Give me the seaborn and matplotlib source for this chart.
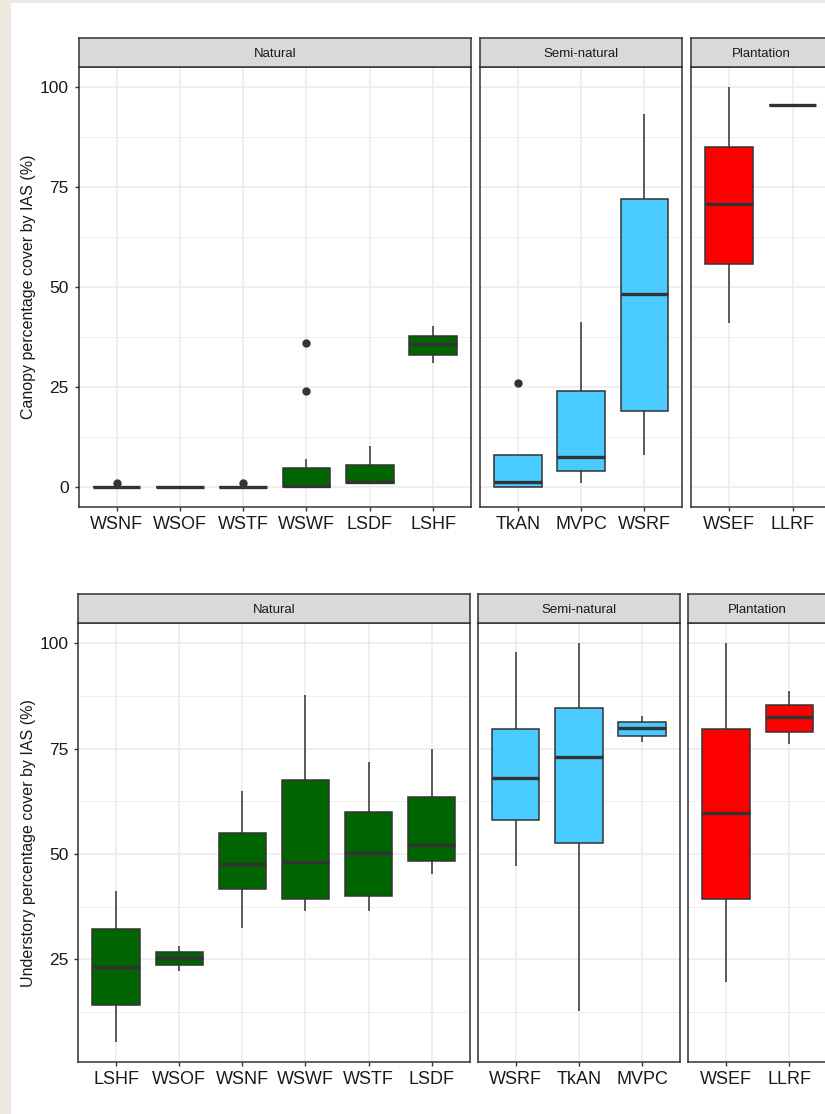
import numpy as np
import pandas as pd
import matplotlib
matplotlib.use("Agg")
import matplotlib.pyplot as plt
import seaborn as sns
from matplotlib.ticker import FixedLocator, NullFormatter
from matplotlib.patches import Rectangle

# ---------------------------------------------------------------------------
# Forest types in each management category (order of display)
# ---------------------------------------------------------------------------
categories = ["Natural", "Semi-natural", "Plantation"]

canopy_natural_types = ["WSNF", "WSOF", "WSTF", "WSWF", "LSDF", "LSHF"]
canopy_semi_types = ["TkAN", "MVPC", "WSRF"]
canopy_plantation_types = ["WSEF", "LLRF"]

under_natural_types = ["LSHF", "WSOF", "WSNF", "WSWF", "WSTF", "LSDF"]
under_semi_types = ["WSRF", "TkAN", "MVPC"]
under_plantation_types = ["WSEF", "LLRF"]

# ---------------------------------------------------------------------------
# Canopy percentage cover by IAS (%) per sampled plot
# ---------------------------------------------------------------------------
canopy_WSNF = [0, 0, 0, 0, 1.0]
canopy_WSOF = [0, 0, 0, 0, 0]
canopy_WSTF = [0, 0, 0, 0, 1.0]
canopy_WSWF = [0, 0, 0, 0, 0, 0, 0.3, 1.0, 3.0, 4.75, 7.0, 24.0, 36.0]
canopy_LSDF = [1.0, 1.0, 1.2, 5.6, 10.2]
canopy_LSHF = [31.1, 33.0, 35.7, 37.7, 40.2]
canopy_TkAN = [0, 0, 1.2, 7.9, 26.1]
canopy_MVPC = [1.1, 4.0, 7.4, 24.0, 41.3]
canopy_WSRF = [8.1, 19.1, 48.3, 71.9, 93.3]
canopy_WSEF = [41.0, 55.7, 70.7, 85.1, 100.0]
canopy_LLRF = [95.6, 95.6, 95.6, 95.6, 95.6]

# ---------------------------------------------------------------------------
# Understory percentage cover by IAS (%) per sampled plot
# ---------------------------------------------------------------------------
under_LSHF = [5.4, 14.1, 23.2, 32.3, 41.2]
under_WSOF = [22.2, 23.6, 25.3, 26.7, 28.1]
under_WSNF = [32.5, 41.7, 47.6, 55.0, 65.0]
under_WSWF = [36.4, 39.4, 48.2, 67.6, 87.7]
under_WSTF = [36.4, 40.1, 50.2, 60.0, 71.9]
under_LSDF = [45.3, 48.3, 52.2, 63.6, 74.9]
under_WSRF = [47.2, 58.0, 68.0, 79.7, 97.9]
under_TkAN = [12.7, 52.7, 73.0, 84.6, 100.0]
under_MVPC = [76.5, 78.0, 79.9, 81.3, 82.7]
under_WSEF = [19.6, 39.4, 59.8, 79.7, 100.0]
under_LLRF = [76.0, 79.0, 82.5, 85.3, 88.6]

category_colors = ["#006400", "#4ACBFF", "#FF0000"]


def long_table(category, types, series):
    rows = []
    for t, vals in zip(types, series):
        for v in vals:
            rows.append({"category": category, "type": t, "value": v})
    return rows


canopy_df = pd.DataFrame(
    long_table("Natural", canopy_natural_types,
               [canopy_WSNF, canopy_WSOF, canopy_WSTF, canopy_WSWF, canopy_LSDF, canopy_LSHF])
    + long_table("Semi-natural", canopy_semi_types, [canopy_TkAN, canopy_MVPC, canopy_WSRF])
    + long_table("Plantation", canopy_plantation_types, [canopy_WSEF, canopy_LLRF])
)
under_df = pd.DataFrame(
    long_table("Natural", under_natural_types,
               [under_LSHF, under_WSOF, under_WSNF, under_WSWF, under_WSTF, under_LSDF])
    + long_table("Semi-natural", under_semi_types, [under_WSRF, under_TkAN, under_MVPC])
    + long_table("Plantation", under_plantation_types, [under_WSEF, under_LLRF])
)

# ---------------------------------------------------------------------------
# Styling
# ---------------------------------------------------------------------------
sns.set_style("white")
plt.rcParams["font.family"] = ["Liberation Sans", "DejaVu Sans"]

W, H = 825, 1114
fig = plt.figure(figsize=(W / 100, H / 100), dpi=100)
fig.patch.set_facecolor("#ECEAE0")
fig.add_artist(Rectangle((11 / W, 0), 1, 1 - 3 / H, transform=fig.transFigure,
                         facecolor="white", edgecolor="none", zorder=0))

DARK = "#333333"
GRID = "#EBEBEB"


def px_axes(left, top, width, height):
    return fig.add_axes([left / W, 1 - (top + height) / H, width / W, height / H])


def draw_row(df, type_lists, plot_top, plot_bottom, strip_h, left0, unit, gap,
             ylabel, major, minor):
    vmin, vmax = df["value"].min(), df["value"].max()
    pad = 0.05 * (vmax - vmin)
    ylim = (vmin - pad, vmax + pad)
    left = left0
    for i, (cat, types) in enumerate(zip(categories, type_lists)):
        n = len(types)
        width = unit * (n + 0.2)
        ax = px_axes(left, plot_top, width, plot_bottom - plot_top)
        sub = df[df["category"] == cat]
        sns.boxplot(data=sub, x="type", y="value", order=types,
                    color=category_colors[i], saturation=1, width=0.75,
                    linewidth=1.1, linecolor=DARK, fliersize=5, showcaps=False,
                    flierprops=dict(marker="o", markerfacecolor=DARK,
                                    markeredgecolor=DARK),
                    medianprops=dict(linewidth=2.4, color=DARK),
                    ax=ax)
        ax.set_xlim(-0.6, n - 0.4)
        ax.set_ylim(*ylim)
        ax.set_xlabel("")
        ax.set_ylabel("")
        ax.set_facecolor("white")
        ax.set_axisbelow(True)
        ax.yaxis.set_major_locator(FixedLocator(major))
        ax.yaxis.set_minor_locator(FixedLocator(minor))
        ax.yaxis.set_minor_formatter(NullFormatter())
        ax.grid(True, which="major", axis="both", color=GRID, linewidth=1.1)
        ax.grid(True, which="minor", axis="y", color=GRID, linewidth=0.55)
        ax.tick_params(axis="x", which="major", length=3.2, width=1.0, color=DARK,
                       pad=3.5, labelsize=13, labelcolor="#1A1A1A", direction="out",
                       bottom=True)
        ax.tick_params(axis="y", which="minor", length=0)
        if i == 0:
            ax.tick_params(axis="y", which="major", length=3.2, width=1.0, color=DARK,
                           pad=4, labelsize=12.5, labelcolor="#1A1A1A",
                           direction="out", left=True)
            ax.set_yticklabels([f"{v:g}" for v in major])
        else:
            ax.tick_params(axis="y", which="major", length=0, labelleft=False)
        for s in ax.spines.values():
            s.set_visible(True)
            s.set_color(DARK)
            s.set_linewidth(1.1)
            s.set_zorder(10)

        sax = px_axes(left, plot_top - strip_h, width, strip_h)
        sax.set_facecolor("#D9D9D9")
        sax.set_xticks([])
        sax.set_yticks([])
        for s in sax.spines.values():
            s.set_visible(True)
            s.set_color(DARK)
            s.set_linewidth(1.1)
        sax.text(0.5, 0.45, cat, ha="center", va="center", fontsize=9.5,
                 color="#1A1A1A", transform=sax.transAxes)
        left += width + gap

    fig.text(29 / W, 1 - (plot_top + plot_bottom) / 2 / H, ylabel, rotation=90,
             ha="center", va="center", fontsize=11.5, color="#1A1A1A")


draw_row(canopy_df, [canopy_natural_types, canopy_semi_types, canopy_plantation_types],
         plot_top=67, plot_bottom=507, strip_h=29.5, left0=78.6, unit=63.3, gap=8.8,
         ylabel="Canopy percentage cover by IAS (%)",
         major=[0, 25, 50, 75, 100], minor=[12.5, 37.5, 62.5, 87.5])

draw_row(under_df, [under_natural_types, under_semi_types, under_plantation_types],
         plot_top=623.3, plot_bottom=1062, strip_h=29.3, left0=78.3, unit=63.1, gap=8.4,
         ylabel="Understory percentage cover by IAS (%)",
         major=[25, 50, 75, 100], minor=[12.5, 37.5, 62.5, 87.5])

fig.savefig("out.png", dpi=100)
